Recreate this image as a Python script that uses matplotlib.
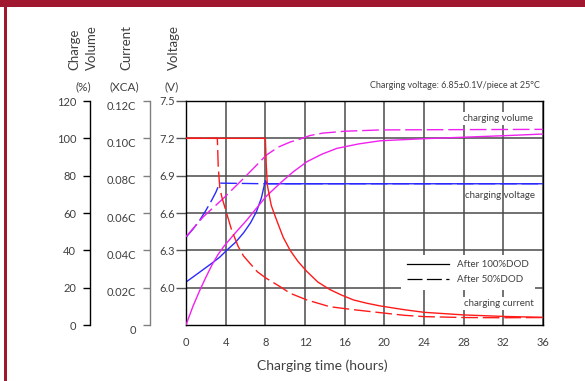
import matplotlib
matplotlib.use('Agg')
import matplotlib.pyplot as plt
import matplotlib.transforms as mtransforms
from matplotlib.lines import Line2D
from matplotlib.patches import Rectangle

plt.rcParams['font.family'] = ['Lato', 'DejaVu Sans']

# axis ticks
hours = [0, 4, 8, 12, 16, 20, 24, 28, 32, 36]
volt_ticks = [6.0, 6.3, 6.6, 6.9, 7.2, 7.5]
pct_ticks = [0, 20, 40, 60, 80, 100, 120]
cur_ticks = [0, 0.02, 0.04, 0.06, 0.08, 0.10, 0.12]
cur_labels = ['0', '0.02C', '0.04C', '0.06C', '0.08C', '0.10C', '0.12C']

# charging volume (%)
vol_100_t = [0, 0.7, 1.4, 2.0, 2.6, 3.2, 3.8, 5.0, 6.1, 7.1, 8.1, 9.5, 10.8,
             12.2, 13.7, 15.2, 17.4, 19.6, 24, 28, 32, 36]
vol_100 = [0, 10, 18.7, 25.5, 32, 37.5, 42, 49.5, 56, 62.5, 69, 76, 82,
           87.5, 91.5, 94.6, 97, 98.7, 99.8, 100.6, 101.4, 102.3]
vol_50_t = [0, 1.75, 3.8, 5.8, 7.0, 8.1, 9.3, 10.5, 11.5, 12.5, 13.8, 16,
            19.6, 24, 30, 36]
vol_50 = [47.3, 58, 68, 78.5, 85, 91, 95.3, 98, 99.6, 101.5, 102.8, 103.8,
          104.5, 104.6, 104.7, 104.8]

# charging voltage (V)
volt_100_t = [0, 1.3, 2.6, 3.4, 4.1, 5.0, 5.8, 6.5, 7.1, 7.6, 8.0, 8.2, 36]
volt_100 = [6.045, 6.12, 6.196, 6.245, 6.30, 6.365, 6.44, 6.52, 6.61, 6.72,
            6.86, 6.835, 6.835]
volt_50_t = [0, 0.7, 1.4, 2.0, 2.6, 3.0, 3.4, 8, 36]
volt_50 = [6.405, 6.47, 6.544, 6.62, 6.704, 6.765, 6.84, 6.835, 6.835]

# charging current (xCA)
cur_100_t = [0, 8.0, 8.1, 8.2, 8.6, 9.15, 9.8, 10.5, 11.3, 12.2, 13.3, 14.5,
             15.7, 16.9, 18.2, 19.6, 22, 24, 28, 32, 36]
cur_100 = [0.1, 0.1, 0.085, 0.075, 0.064, 0.056, 0.047, 0.040, 0.034, 0.0286,
           0.023, 0.019, 0.016, 0.0134, 0.0117, 0.0102, 0.0082, 0.0068, 0.0054,
           0.0046, 0.0041]
cur_50_t = [0, 3.16, 3.25, 3.4, 3.6, 4.1, 4.6, 5.27, 5.8, 6.45, 7.2, 8.1, 9.5,
            10.5, 12.2, 14.5, 16.9, 19.6, 22, 24, 28, 32, 36]
cur_50 = [0.1, 0.1, 0.085, 0.074, 0.0688, 0.0598, 0.0509, 0.042, 0.037, 0.033,
          0.0285, 0.025, 0.0205, 0.017, 0.0134, 0.0098, 0.0082, 0.0066, 0.0052,
          0.0045, 0.004, 0.0039, 0.004]

magenta = '#f020f0'
blue = '#2a2aff'
red = '#ff1a1a'
txt = '#404040'
dash = (12, 3.5)

fig = plt.figure(figsize=(5.85, 3.81), dpi=100)
W, H = 585, 381

# dark red frame of the page
fig.add_artist(Rectangle((0, 1 - 6.5 / H), 1, 6.5 / H, transform=fig.transFigure,
                         color='#a01830', lw=0))
fig.add_artist(Rectangle((4 / W, 0), 3.3 / W, 1, transform=fig.transFigure,
                         color='#a01830', lw=0))

ax = fig.add_axes([186 / W, 56 / H, 357 / W, 224 / H])
ax.set_xlim(0, 36)
ax.set_ylim(5.7, 7.5)
ax.set_xticks(hours)
ax.set_yticks(volt_ticks)
ax.set_yticklabels([f'{v:.1f}' for v in volt_ticks])
ax.grid(True, color='#4a4a4a', lw=1.1)
for s in ax.spines.values():
    s.set_color('black')
    s.set_linewidth(1.0)
ax.tick_params(axis='x', length=0, pad=9, labelsize=8, labelcolor=txt)
ax.tick_params(axis='y', direction='out', length=7, width=1, color='#555555',
               pad=1, labelsize=8, labelcolor=txt)

ax_p = ax.twinx()
ax_c = ax.twinx()
for tw, off, col in [(ax_p, 69, 'black'), (ax_c, 26, '#808080')]:
    tw.yaxis.set_ticks_position('left')
    for side in ['right', 'top', 'bottom']:
        tw.spines[side].set_visible(False)
    tw.spines['left'].set_position(('outward', off))
    tw.spines['left'].set_color(col)
    tw.spines['left'].set_linewidth(1.0)
    tw.tick_params(axis='y', direction='out', length=5, width=1, color=col,
                   pad=5, labelsize=8, labelcolor=txt)

ax_p.set_ylim(0, 120)
ax_p.set_yticks(pct_ticks)
ax_c.set_ylim(0, 0.12)
ax_c.set_yticks(cur_ticks)
ax_c.set_yticklabels(cur_labels)
offset = mtransforms.ScaledTranslation(0, -3 / 72, fig.dpi_scale_trans)
for lab in ax_c.get_yticklabels():
    lab.set_transform(lab.get_transform() + offset)

# curves
ax_p.plot(vol_100_t, vol_100, color=magenta, lw=1.0)
ax_p.plot(vol_50_t, vol_50, color=magenta, lw=1.0, dashes=dash)
ax.plot(volt_100_t, volt_100, color=blue, lw=1.0)
ax.plot(volt_50_t, volt_50, color=blue, lw=1.0, dashes=dash)
ax_c.plot(cur_100_t, cur_100, color=red, lw=1.0)
ax_c.plot(cur_50_t, cur_50, color=red, lw=1.0, dashes=dash)

# curve labels
box = dict(facecolor='white', edgecolor='none', pad=1.5)
ax.text(0.776, 0.92, 'charging volume', transform=ax.transAxes, fontsize=7,
        color=txt, va='center', ha='left', bbox=box)
ax.text(0.782, 0.576, 'charging voltage', transform=ax.transAxes, fontsize=7,
        color=txt, va='center', ha='left')
ax.text(0.779, 0.098, 'charging current', transform=ax.transAxes, fontsize=7,
        color=txt, va='center', ha='left', bbox=box)
ax.text(0.992, 1.068, 'Charging voltage: 6.85\u00b10.1V/piece at 25\u00b0C',
        transform=ax.transAxes, fontsize=6.5, color=txt, ha='right', va='center')

handles = [Line2D([], [], color='black', lw=0.9),
           Line2D([], [], color='black', lw=0.9, dashes=(12, 3.5))]
ax.legend(handles, ['After 100%DOD', 'After 50%DOD'], loc='center right',
          bbox_to_anchor=(0.99, 0.235), fontsize=7, frameon=True,
          facecolor='white', edgecolor='none', framealpha=1, fancybox=False,
          handlelength=4.3, handletextpad=0.8, labelspacing=0.6, borderpad=0.6,
          labelcolor=txt)

# axis headers
fig.text(83 / W, 1 - 70 / H, 'Charge\nVolume', rotation=90, ha='center',
         va='bottom', multialignment='left', linespacing=1.6, fontsize=9.5,
         color=txt)
fig.text(126 / W, 1 - 70 / H, 'Current', rotation=90, ha='center', va='bottom',
         fontsize=9.5, color=txt)
fig.text(174 / W, 1 - 70 / H, 'Voltage', rotation=90, ha='center', va='bottom',
         fontsize=9.5, color=txt)
for x, s in [(83, '(%)'), (124.5, '(XCA)'), (171.5, '(V)')]:
    fig.text(x / W, 1 - 87 / H, s, ha='center', va='center', fontsize=8.5,
             color=txt)

fig.text(322 / W, 1 - 366 / H, 'Charging time (hours)', ha='center', va='center',
         fontsize=10, color=txt)

fig.savefig('out.png', dpi=100)
